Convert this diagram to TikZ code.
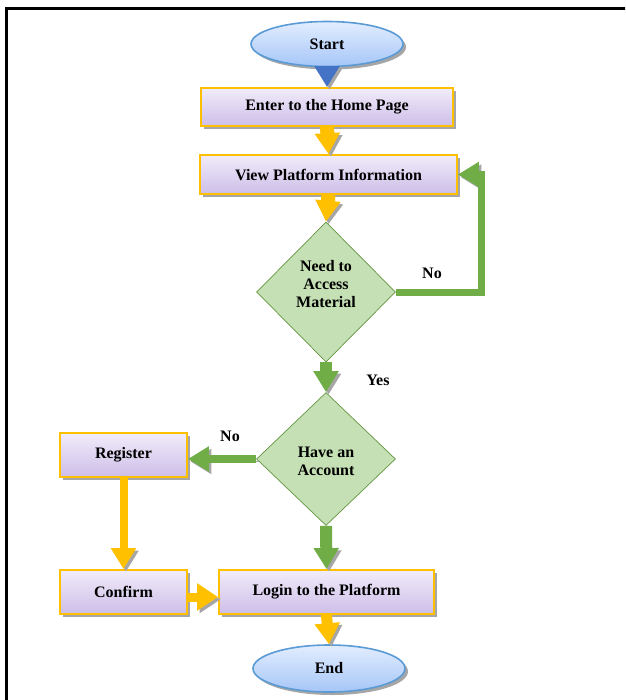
\documentclass[tikz,border=0pt]{standalone}
\usepackage{fontspec}
\setmainfont{Liberation Serif}
\usetikzlibrary{shapes.geometric,arrows.meta,shadows}
\definecolor{boxtop}{RGB}{241,236,250}
\definecolor{boxbot}{RGB}{205,190,232}
\definecolor{boxline}{RGB}{255,192,0}
\definecolor{elltop}{RGB}{226,237,255}
\definecolor{ellbot}{RGB}{166,198,247}
\definecolor{ellline}{RGB}{91,155,213}
\definecolor{dfill}{RGB}{197,224,180}
\definecolor{dline}{RGB}{100,150,65}
\definecolor{agreen}{RGB}{112,173,71}
\definecolor{ayellow}{RGB}{255,192,0}
\definecolor{ablue}{RGB}{68,114,196}
\definecolor{shadowgray}{RGB}{166,166,166}
\begin{document}
\begin{tikzpicture}[x=1pt,y=-1pt,
  font=\fontsize{16}{18}\selectfont\bfseries,
  boxshadow/.style={drop shadow={shadow xshift=3pt,shadow yshift=-3pt,fill=shadowgray,opacity=1}},
  procbox/.style={rectangle,draw=boxline,line width=1.8pt,top color=boxtop,bottom color=boxbot,inner sep=0pt,boxshadow},
  termnode/.style={ellipse,draw=ellline,line width=1.6pt,top color=elltop,bottom color=ellbot,inner sep=0pt,boxshadow},
  decnode/.style={diamond,draw=dline,line width=0.7pt,fill=dfill,inner sep=0pt},
  dtext/.style={align=center,inner sep=0pt},
  arrshadow/.style={preaction={draw=shadowgray,transform canvas={xshift=2.5pt,yshift=-2.5pt}}},
  blockarrow/.style={line width=#1,line join=miter,-{Triangle[length=21pt 0 0,width=24pt 0 0]},arrshadow},
  yarrow/.style={draw=ayellow,blockarrow=#1},
  garrow/.style={draw=agreen,blockarrow=#1},
  lbl/.style={inner sep=0pt}
]
\useasboundingbox (0,0) rectangle (625,700);
\clip (0,0) rectangle (625,700);
\fill[white] (0,0) rectangle (625,700);
\draw[line width=3pt] (6,9) rectangle (700,780);

\node[termnode,minimum width=152pt,minimum height=45pt] (start) at (327,44) {Start};
\node[procbox,minimum width=252pt,minimum height=38pt] (home) at (327,107) {Enter to the Home Page};
\node[procbox,minimum width=257pt,minimum height=39pt] (view) at (328.5,174.5) {View Platform Information};
\node[decnode,minimum width=139pt,minimum height=140pt] (d1) at (326,292) {};
\node[dtext] (d1t) at ([yshift=8pt]d1.center) {Need to\\Access\\Material};
\node[decnode,minimum width=139pt,minimum height=133pt] (d2) at (326,459) {};
\node[dtext] (d2t) at ([yshift=-2pt]d2.center) {Have an\\Account};
\node[procbox,minimum width=127pt,minimum height=44pt] (reg) at (123.5,455) {Register};
\node[procbox,minimum width=127pt,minimum height=44pt] (conf) at (123.5,592) {Confirm};
\node[procbox,minimum width=215pt,minimum height=44pt] (login) at (326.5,592) {Login to the Platform};
\node[termnode,minimum width=152pt,minimum height=47pt] (end) at (329,668.5) {End};
\coordinate (loopc) at (481,0);

\draw[draw=ablue,blockarrow=6pt] (start.south) -- (home.north);
\draw[yarrow=14pt] (home.south) -- (view.north);
\draw[yarrow=14pt] (view.south) -- (d1.north);
\draw[garrow=12pt] (d1.south) -- (d2.north);
\draw[garrow=12pt] (d2.south) -- (login.north);
\draw[garrow=8pt] (d2.west) -- (d2.west -| reg.east);
\draw[yarrow=8pt] (reg.south) -- (conf.north);
\draw[yarrow=9pt,-{Triangle[length=21pt 0 0,width=26pt 0 0]}] ([yshift=-5pt]conf.east) -- ([yshift=-5pt]login.west);
\draw[yarrow=11pt] (login.south) -- (end.north);
\draw[garrow=7pt] (d1.east) -- (d1.east -| loopc) -- (view.east -| loopc) -- (view.east);

\node[lbl] (lno1) at (432,273) {No};
\node[lbl] (lyes) at (378,380) {Yes};
\node[lbl] (lno2) at (230,436) {No};
\end{tikzpicture}
\end{document}
